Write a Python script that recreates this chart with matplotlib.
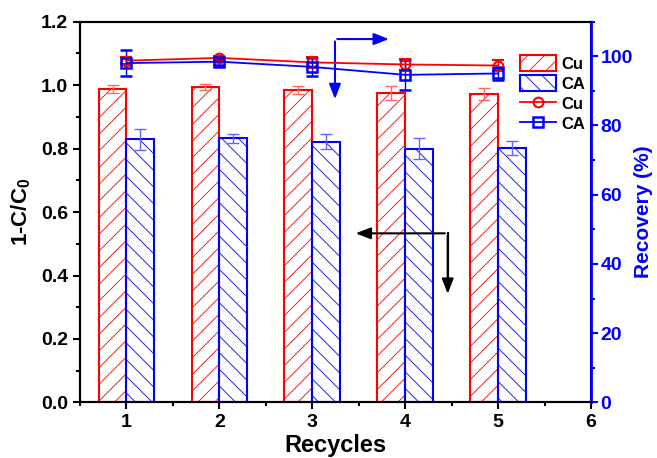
import numpy as np
import matplotlib
matplotlib.use('Agg')
import matplotlib.pyplot as plt
from matplotlib.ticker import MultipleLocator
from matplotlib.lines import Line2D

plt.rcParams['font.family'] = ['Liberation Sans', 'DejaVu Sans']
plt.rcParams['font.weight'] = 'bold'
plt.rcParams['mathtext.fontset'] = 'custom'
plt.rcParams['mathtext.rm'] = 'Liberation Sans:bold'
plt.rcParams['mathtext.bf'] = 'Liberation Sans:bold'
plt.rcParams['mathtext.default'] = 'bf'
plt.rcParams['hatch.linewidth'] = 0.6

# 数据
recycles = [1, 2, 3, 4, 5]
cu_removal = [0.987, 0.993, 0.984, 0.974, 0.972]
cu_removal_err = [0.012, 0.010, 0.012, 0.022, 0.019]
ca_removal = [0.829, 0.832, 0.821, 0.800, 0.802]
ca_removal_err = [0.034, 0.014, 0.024, 0.034, 0.021]
cu_recovery = [98.7, 99.5, 98.2, 97.6, 97.3]
cu_recovery_err = [1.0, 0.5, 1.5, 1.5, 1.5]
ca_recovery = [98.0, 98.4, 96.9, 94.6, 95.0]
ca_recovery_err = [3.8, 1.0, 2.7, 4.3, 2.0]

red = '#ff0000'
blue = '#0000ff'
w = 0.3
x = np.array(recycles)

fig = plt.figure(figsize=(6.57, 4.58), dpi=100)
ax1 = fig.add_axes([0.1218, 0.1212, 0.7777, 0.8318])
ax2 = ax1.twinx()

# 柱状图
b1 = ax1.bar(x - w / 2, cu_removal, w, facecolor='none', edgecolor=red,
             hatch='//', linewidth=1.5, label='Cu')
b2 = ax1.bar(x + w / 2, ca_removal, w, facecolor='none', edgecolor=blue,
             hatch='\\\\', linewidth=1.5, label='CA')
ax1.errorbar(x - w / 2, cu_removal, yerr=cu_removal_err, fmt='none',
             ecolor='#ff6666', elinewidth=1, capsize=4, capthick=1)
ax1.errorbar(x + w / 2, ca_removal, yerr=ca_removal_err, fmt='none',
             ecolor='#6666ff', elinewidth=1, capsize=4, capthick=1)

# 折线图
ax2.errorbar(x, cu_recovery, yerr=cu_recovery_err, color=red, marker='o',
             markersize=7, markerfacecolor='none', markeredgewidth=1.5,
             linewidth=1.3, elinewidth=1, capsize=4)
ax2.errorbar(x, ca_recovery, yerr=ca_recovery_err, color=blue, marker='s',
             markersize=7, markerfacecolor='none', markeredgewidth=1.8,
             linewidth=1.3, elinewidth=1, capsize=4)

ax1.set_xlim(0.5, 6)
ax1.set_ylim(0, 1.2)
ax2.set_ylim(0, 110)

ax1.xaxis.set_major_locator(MultipleLocator(1))
ax1.xaxis.set_minor_locator(MultipleLocator(0.5))
ax1.yaxis.set_major_locator(MultipleLocator(0.2))
ax1.yaxis.set_minor_locator(MultipleLocator(0.1))
ax2.yaxis.set_major_locator(MultipleLocator(20))
ax2.yaxis.set_minor_locator(MultipleLocator(10))

ax1.set_xticks([1, 2, 3, 4, 5, 6])
ax1.set_xticklabels(['1', '2', '3', '4', '5', '6'])
ax1.yaxis.set_major_formatter(matplotlib.ticker.FormatStrFormatter('%.1f'))

for sp in ax1.spines.values():
    sp.set_linewidth(1.5)
for sp in ax2.spines.values():
    sp.set_linewidth(1.5)
ax2.spines['right'].set_color(blue)
ax2.spines['right'].set_linewidth(2)

ax1.tick_params(which='major', direction='out', length=5, width=1.5,
                labelsize=14, right=False, top=False)
ax1.tick_params(which='minor', direction='out', length=3, width=1.5,
                right=False, top=False)
ax2.tick_params(which='major', direction='out', length=5, width=1.5,
                labelsize=14, colors=blue, pad=2)
ax2.tick_params(which='minor', direction='out', length=3, width=1.5,
                colors=blue)

ax1.set_xlabel('Recycles', fontsize=17, fontweight='bold', labelpad=2)
ax1.set_ylabel(r'1-C/C$_\mathbf{0}$', fontsize=16, fontweight='bold', labelpad=6)
ax2.set_ylabel('Recovery (%)', fontsize=15, fontweight='bold', color=blue,
               labelpad=1)

# 箭头
ahead = '-|>,head_length=0.9,head_width=0.35'
ax1.plot([0.7196, 0.7196], [0.444, 0.30], color='black', lw=1.5,
         transform=ax1.transAxes)
ax1.annotate('', xy=(0.534, 0.444), xytext=(0.7196, 0.444),
             xycoords='axes fraction',
             arrowprops=dict(arrowstyle=ahead, color='black', lw=1.5))
ax1.annotate('', xy=(0.7196, 0.278), xytext=(0.7196, 0.445),
             xycoords='axes fraction',
             arrowprops=dict(arrowstyle=ahead, color='black', lw=1.5))
ax1.annotate('', xy=(0.499, 0.789), xytext=(0.499, 0.955),
             xycoords='axes fraction',
             arrowprops=dict(arrowstyle=ahead, color=blue, lw=1.5))
ax1.annotate('', xy=(0.61, 0.954), xytext=(0.498, 0.954),
             xycoords='axes fraction',
             arrowprops=dict(arrowstyle=ahead, color=blue, lw=1.5))

# 图例
h3 = Line2D([], [], color=red, marker='o', markersize=7,
            markerfacecolor='none', markeredgewidth=1.5, linewidth=1.3)
h4 = Line2D([], [], color=blue, marker='s', markersize=7,
            markerfacecolor='none', markeredgewidth=1.8, linewidth=1.3)
handles = [b1, b2, h3, h4]
labels = ['Cu', 'CA', 'Cu', 'CA']
leg = ax2.legend(handles, labels, loc='upper right', bbox_to_anchor=(0.995, 0.92),
                 frameon=False, fontsize=12, handlelength=2.2, handleheight=1.1,
                 handletextpad=0.3, labelspacing=0.2, borderaxespad=0.1,
                 borderpad=0.1)

fig.savefig('out.png', dpi=100)
